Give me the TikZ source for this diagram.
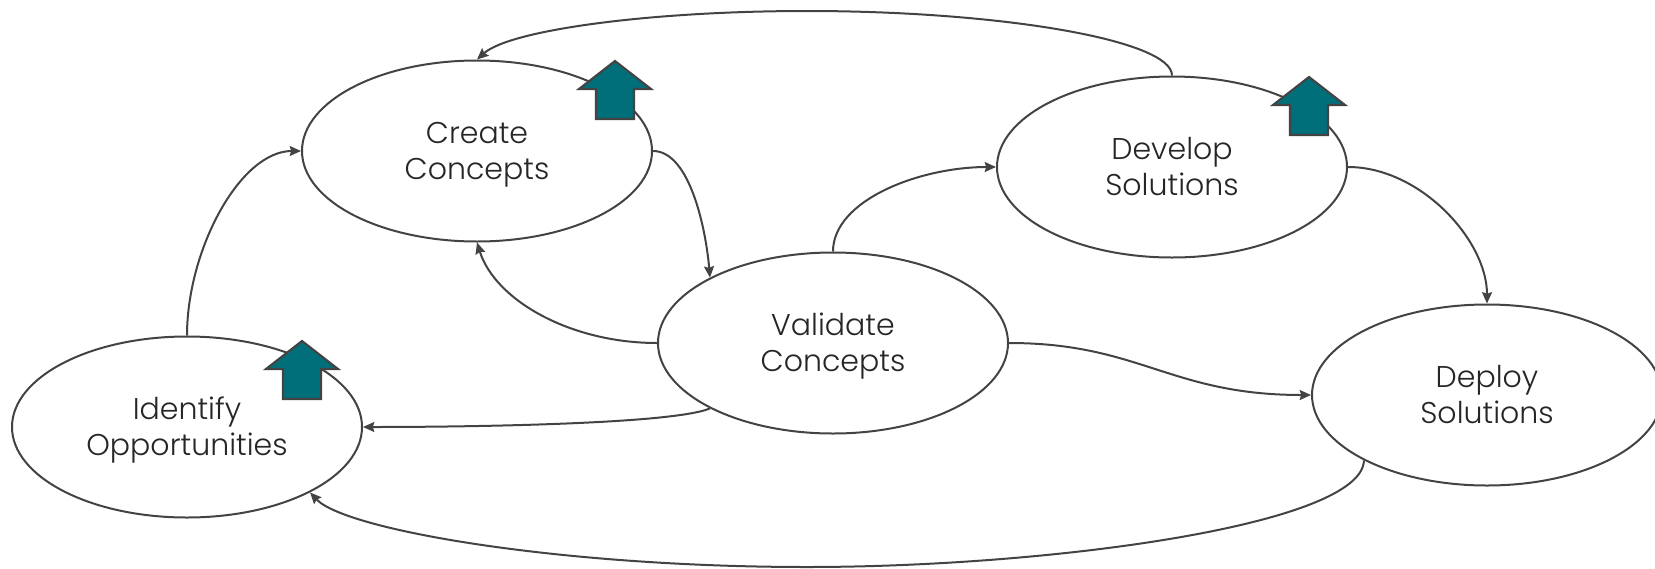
\documentclass[tikz,border=0pt]{standalone}
\usepackage{fontspec}
\setmainfont{Poppins Light}
\usetikzlibrary{arrows.meta,shapes.geometric}
\definecolor{ln}{HTML}{434343}
\definecolor{tl}{HTML}{006F7A}
\newcommand{\twolines}[2]{\strut\rule{0pt}{24pt}#1\\\strut #2}
\tikzset{
  stage/.style={ellipse,draw=ln,line width=1.5pt,fill=white,minimum width=262.5pt,minimum height=135.75pt,inner sep=0pt,align=center,text=black!85,font=\fontsize{22.5}{27}\selectfont},
  link/.style={draw=ln,line width=1.5pt,-{Stealth[length=8.5pt,width=7.5pt,inset=1.2pt]}},
  upmark/.style={draw=ln,line width=1.6pt,fill=tl,line join=miter}
}
\newcommand{\housemark}[2]{\draw[upmark] (#1,#2) -- ++(36,28) -- ++(-17,0) -- ++(0,30) -- ++(-38,0) -- ++(0,-30) -- ++(-17,0) -- cycle;}
\begin{document}
\begin{tikzpicture}[x=0.75pt,y=-0.75pt]
\useasboundingbox (0,0) rectangle (1655,568);
\node[stage] (identify) at (187,427) {\twolines{Identify}{Opportunities}};
\node[stage] (create) at (477,151) {\twolines{Create}{Concepts}};
\node[stage] (develop) at (1172,167) {\twolines{Develop}{Solutions}};
\node[stage] (validate) at (833,343) {\twolines{Validate}{Concepts}};
\node[stage] (deploy) at (1487,395) {\twolines{Deploy}{Solutions}};
\coordinate (top) at (807,11);
\coordinate (bot) at (807,567);
\draw[link] (develop.north) .. controls (1172,40) and (1000,11) .. (top) .. controls (650,11) and (510,30) .. (create.north);
\draw[link] (create.east) .. controls (690,151) and (706,230) .. (validate.152);
\draw[link] (validate.west) .. controls (570,343) and (495,300) .. (create.south);
\draw[link] (validate.north) .. controls (833,200) and (920,167) .. (develop.west);
\draw[link] (develop.east) .. controls (1420,167) and (1487,240) .. (deploy.north);
\draw[link] (validate.east) .. controls (1140,343) and (1170,395) .. (deploy.west);
\draw[link] (validate.208) .. controls (670,425) and (450,427) .. (identify.east);
\draw[link] (deploy.208) .. controls (1362,525) and (1050,567) .. (bot) .. controls (560,567) and (345,530) .. (identify.-28);
\draw[link] (identify.north) .. controls (187,250) and (240,151) .. (create.west);
\housemark{615}{61}
\housemark{1309}{77}
\housemark{302}{341}
\end{tikzpicture}
\end{document}
